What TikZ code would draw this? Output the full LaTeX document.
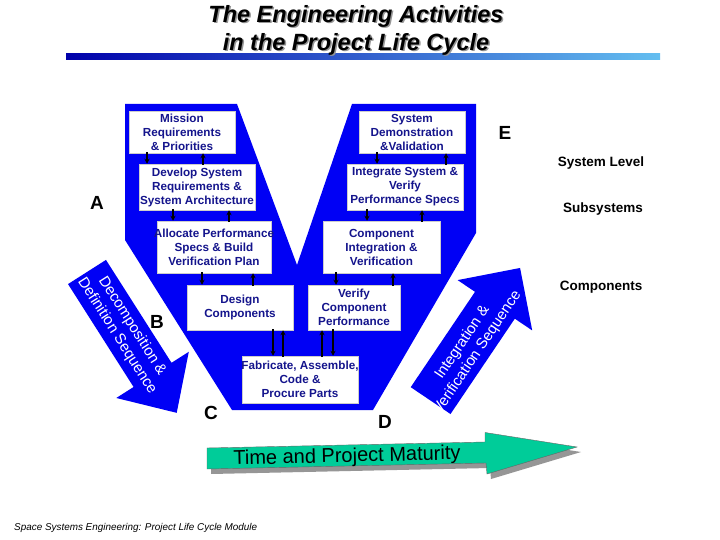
\documentclass[tikz,border=0pt]{standalone}
\usepackage{fontspec}
\setmainfont{Liberation Sans}
\usetikzlibrary{arrows.meta}
\definecolor{vblue}{RGB}{0,0,245}
\definecolor{boxtxt}{RGB}{20,20,140}
\definecolor{tgreen}{RGB}{0,204,153}
\definecolor{shadowgray}{RGB}{150,150,150}
\definecolor{bardark}{RGB}{0,0,170}
\definecolor{barlight}{RGB}{100,190,240}
\begin{document}
\begin{tikzpicture}[x=1pt,y=-1pt,
 box/.style={draw=black!20, fill=white, line width=0.5pt, inner sep=0pt},
 boxtext/.style={text=boxtxt, font=\fontsize{11.7}{14}\selectfont\bfseries, align=center, inner sep=0pt},
 conn/.style={-{Stealth[length=5pt,width=5pt]}, line width=1.1pt, shorten <=-1pt},
 letter/.style={font=\fontsize{19}{22}\selectfont\bfseries, inner sep=0pt},
 level/.style={font=\fontsize{13.5}{15}\selectfont\bfseries, inner sep=0pt},
 arrowtext/.style={text=white, font=\fontsize{15}{18}\selectfont, align=center, inner sep=0pt, transform shape},
 titlefont/.style={font=\fontsize{23.5}{28}\selectfont\bfseries\itshape, align=center, inner sep=0pt}
]
\useasboundingbox (0,0) rectangle (720,540);
\fill[white] (0,0) rectangle (720,540);

% title
\shade[left color=bardark, right color=barlight] (66,54) rectangle (660,60);
\node[titlefont, text=shadowgray] (titleshadow) at (357.5,31.5) {The Engineering Activities\\in the Project Life Cycle};
\node[titlefont] (title) at (356,30) {The Engineering Activities\\in the Project Life Cycle};

% V shape
\fill[vblue] (125,104) -- (237,104) -- (297,265) -- (352,104) -- (476,104) -- (476,233) -- (373,410) -- (232,410) -- (125,240) -- cycle;

% boxes
\node[box, minimum width=106pt, minimum height=42pt] (mission) at (182,132) {};
\node[boxtext] (missiont) at (mission.center) {Mission\\Requirements\\\& Priorities};
\node[box, minimum width=116pt, minimum height=46pt] (develop) at (197,187) {};
\node[boxtext] (developt) at (develop.center) {Develop System\\Requirements \&\\System Architecture};
\node[box, minimum width=114pt, minimum height=52pt] (allocate) at (214,247) {};
\node[boxtext] (allocatet) at (allocate.center) {Allocate Performance\\Specs \& Build\\Verification Plan};
\node[box, minimum width=106pt, minimum height=45pt] (design) at (240,307.5) {};
\node[boxtext] (designt) at (design.center) {Design\\Components};
\node[box, minimum width=116pt, minimum height=47pt] (fab) at (300,379.5) {};
\node[boxtext] (fabt) at (fab.center) {Fabricate, Assemble,\\Code \&\\Procure Parts};
\node[box, minimum width=92pt, minimum height=45pt] (verify) at (354,307.5) {};
\node[boxtext] (verifyt) at (verify.center) {Verify\\Component\\Performance};
\node[box, minimum width=117pt, minimum height=52pt] (compint) at (381.5,247) {};
\node[boxtext] (compintt) at (compint.center) {Component\\Integration \&\\Verification};
\node[box, minimum width=116pt, minimum height=46pt] (integ) at (405,187) {};
\node[boxtext] (integt) at (integ.center) {Integrate System \&\\Verify\\Performance Specs};
\node[box, minimum width=106pt, minimum height=42pt] (demo) at (412,132) {};
\node[boxtext] (demot) at (demo.center) {System\\Demonstration\\\&Validation};

% connectors
\draw[conn] ([xshift=-35pt]mission.south) -- ([xshift=-50pt]develop.north);
\draw[conn] ([xshift=6pt]develop.north) -- ([xshift=21pt]mission.south);
\draw[conn] ([xshift=-24pt]develop.south) -- ([xshift=-41pt]allocate.north);
\draw[conn] ([xshift=15pt]allocate.north) -- ([xshift=32pt]develop.south);
\draw[conn] ([xshift=-12pt]allocate.south) -- ([xshift=-38pt]design.north);
\draw[conn] ([xshift=13pt]design.north) -- ([xshift=39pt]allocate.south);
\draw[conn] ([xshift=33pt]design.south) -- ([xshift=-27pt]fab.north);
\draw[conn] ([xshift=-17pt]fab.north) -- ([xshift=43pt]design.south);
\draw[conn] ([xshift=22pt]fab.north) -- ([xshift=-32pt]verify.south);
\draw[conn] ([xshift=-21pt]verify.south) -- ([xshift=33pt]fab.north);
\draw[conn] ([xshift=-45.5pt]compint.south) -- ([xshift=-18pt]verify.north);
\draw[conn] ([xshift=39pt]verify.north) -- ([xshift=11.5pt]compint.south);
\draw[conn] ([xshift=-38pt]integ.south) -- ([xshift=-14.5pt]compint.north);
\draw[conn] ([xshift=40.5pt]compint.north) -- ([xshift=17pt]integ.south);
\draw[conn] ([xshift=-35pt]demo.south) -- ([xshift=-28pt]integ.north);
\draw[conn] ([xshift=41pt]integ.north) -- ([xshift=34pt]demo.south);

% decomposition arrow
\begin{scope}[shift={(87,272)}, rotate=-57.5]
\fill[vblue] (0,-22.5) -- (122,-22.5) -- (122,-43) -- (167,0) -- (122,43) -- (122,22.5) -- (0,22.5) -- cycle;
\node[arrowtext] (dect) at (70,0) {Decomposition \&\\Definition Sequence};
\end{scope}

% integration arrow
\begin{scope}[shift={(430.6,400.6)}, rotate=56]
\fill[vblue] (0,-24) -- (115,-24) -- (115,-45) -- (160,0) -- (115,45) -- (115,24) -- (0,24) -- cycle;
\node[arrowtext] (intt) at (66,3) {Integration \&\\Verification Sequence};
\end{scope}

% letters
\node[letter] (la) at (97,203) {A};
\node[letter] (lb) at (157,322) {B};
\node[letter] (lc) at (211,413) {C};
\node[letter] (ld) at (385,422) {D};
\node[letter] (le) at (505,133) {E};

% levels
\node[level] (syslev) at (601,163) {System Level};
\node[level] (subsys) at (603,209) {Subsystems};
\node[level] (comps) at (601,287) {Components};

% time arrow
\begin{scope}[shift={(4,5)}]
\fill[shadowgray] (207,448) -- (485,442) -- (485,432.5) -- (577,447) -- (487,474) -- (486,463) -- (207,469) -- cycle;
\end{scope}
\filldraw[fill=tgreen, draw=black!60, line width=0.4pt] (207,448) -- (485,442) -- (485,432.5) -- (577,447) -- (487,474) -- (486,463) -- (207,469) -- cycle;
\node[font=\fontsize{20}{22}\selectfont, rotate=1.4, inner sep=0pt] (time) at (347,457) {Time and Project Maturity};

% footer
\node[font=\fontsize{9.9}{11}\selectfont\itshape, anchor=west, inner sep=0pt] (footer) at (14,528) {Space Systems Engineering: Project Life Cycle Module};
\end{tikzpicture}
\end{document}
